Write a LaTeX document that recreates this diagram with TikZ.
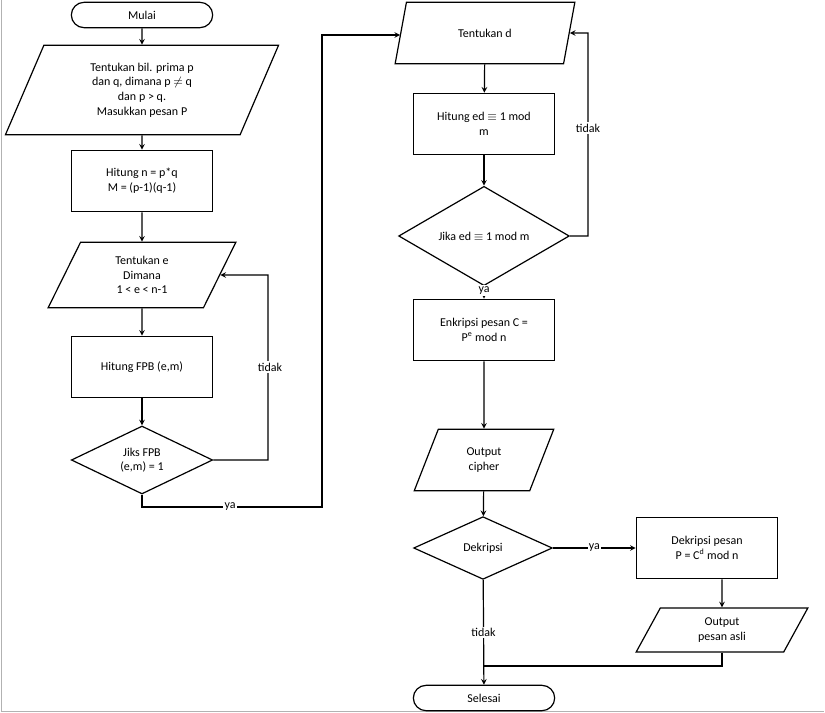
\documentclass[tikz,border=0pt]{standalone}
\usepackage{fontspec}
\setmainfont{Carlito}
\usepackage{tikz}
\usetikzlibrary{shapes.geometric, arrows}
\tikzstyle{startstop} = [rectangle, rounded corners=9.5pt, minimum width=106pt, minimum height=19pt, text centered, draw=black]
\tikzstyle{io} = [trapezium, trapezium left angle=70, trapezium right angle=110, trapezium stretches=true, inner sep=1pt, align=center, draw=black]
\tikzstyle{process} = [rectangle, minimum width=106pt, minimum height=46pt, align=center, draw=black]
\tikzstyle{decision} = [diamond, inner sep=0pt, align=center, draw=black]
\tikzstyle{arrow} = [->, >=stealth]
\tikzstyle{lbl} = [fill=white, inner sep=1pt]

\begin{document}
\begin{tikzpicture}[x=0.75pt, y=-0.75pt, font=\small, line width=0.9pt]
	\useasboundingbox (0,0) rectangle (825,713);
	\draw [gray!60, thin] (1,0) -- (1,711) -- (824,711);
	\node (start) [startstop] at (142,15) {Mulai};
	\node (input) [io, minimum width=205pt, minimum height=67pt] at (142,90) {Tentukan bil. prima p\\dan q, dimana p $\neq$ q\\dan p > q.\\Masukkan pesan P};
	\node (hitn) [process] at (142,181) {Hitung n = p*q\\M = (p-1)(q-1)};
	\node (tente) [io, minimum width=141pt, minimum height=49pt] at (142,275) {Tentukan e\\Dimana\\1 < e < n-1};
	\node (fpb) [process] at (142,367) {Hitung FPB (e,m)};
	\node (cekfpb) [decision, minimum width=106pt, minimum height=48pt] at (142,460) {Jiks FPB\\(e,m) = 1};
	\node (tentd) [io, minimum width=135pt, minimum height=46pt] at (485,33) {Tentukan d};
	\node (hitd) [process] at (484,124) {Hitung ed $\equiv$ 1 mod\\m};
	\node (cekd) [decision, minimum width=128pt, minimum height=54pt] at (484,236) {Jika ed $\equiv$ 1 mod m};
	\node (enk) [process] at (484,330) {Enkripsi pesan C =\\P\textsuperscript{e} mod n};
	\node (cipher) [io, minimum width=105pt, minimum height=46pt] at (484,460) {Output\\cipher};
	\node (cekdek) [decision, minimum width=104pt, minimum height=47pt] at (483,548) {Dekripsi};
	\node (dek) [process] at (707,548) {Dekripsi pesan\\P = C\textsuperscript{d} mod n};
	\node (asli) [io, minimum width=129pt, minimum height=33pt] at (722,630) {Output\\pesan asli};
	\node (stop) [startstop] at (484,698) {Selesai};
	\coordinate (gabung) at (484,666);

	\draw [arrow](start) -- (input);
	\draw [arrow](input) -- (hitn);
	\draw [arrow](hitn) -- (tente);
	\draw [arrow](tente) -- (fpb);
	\draw [arrow](fpb) -- (cekfpb);
	\draw [arrow](cekfpb.east) -- (268,460) -- (268,275) -- (tente.east);
	\node [lbl] at (270,367) {tidak};
	\draw [arrow](cekfpb.south) -- (142,507) -- (322,507) -- (322,35) -- (tentd.west |- 0,35);
	\node [lbl] at (230,507) {ya};
	\draw [arrow](tentd) -- (hitd);
	\draw [arrow](hitd) -- (cekd);
	\draw [arrow](cekd.east) -- (588,236) -- (588,33) -- (tentd.east);
	\node [lbl] at (588,128) {tidak};
	\draw [arrow](cekd) -- (enk) node [lbl, pos=0.35] {ya};
	\draw [arrow](enk) -- (cipher);
	\draw [arrow](cipher) -- (cekdek);
	\draw [arrow](cekdek) -- (dek) node [lbl, midway] {ya};
	\draw [arrow](dek.south -| asli) -- (asli);
	\draw [arrow](cekdek) -- (stop) node [lbl, pos=0.5] {tidak};
	\draw (asli) -- (asli |- gabung) -- (gabung);
\end{tikzpicture}
\end{document}
